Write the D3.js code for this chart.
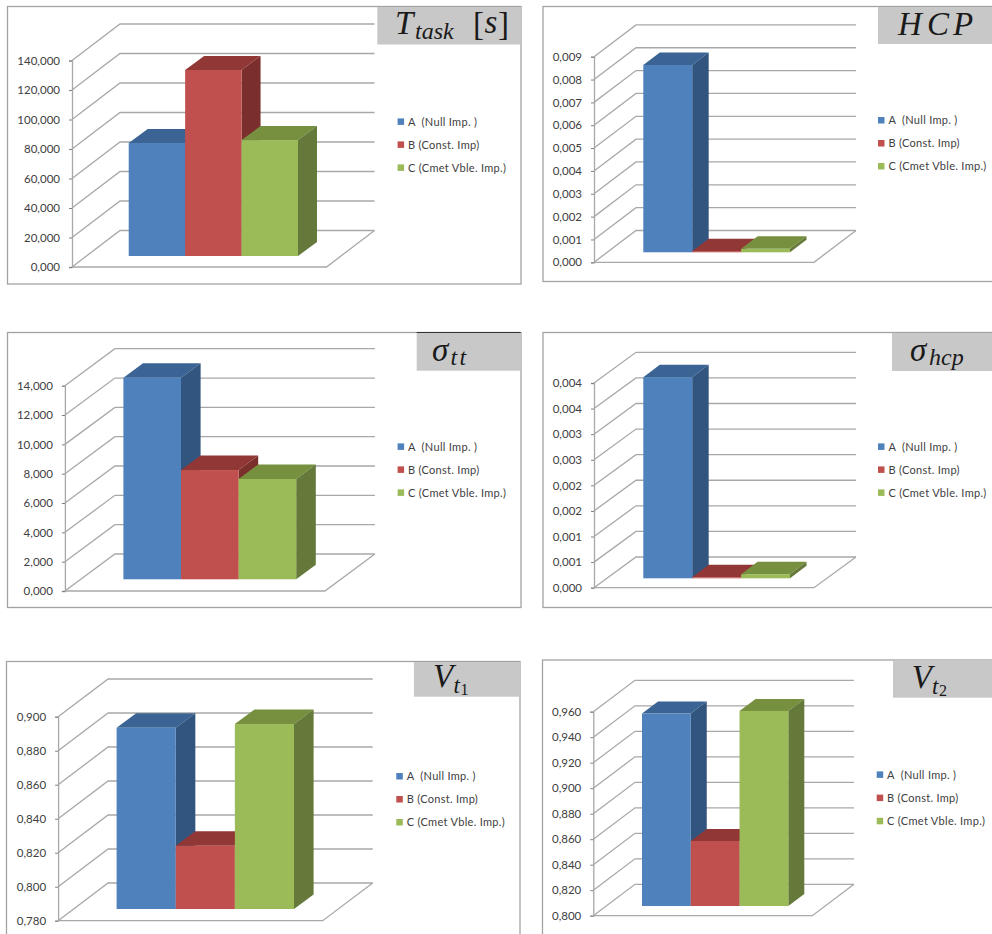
<!DOCTYPE HTML>
<html>

<head>
    <meta charset="utf-8">
    <title>Implementation comparison</title>
    <script src="https://d3js.org/d3.v7.min.js"></script>
    <style>
        html, body {
            margin: 0;
            background: white;
            overflow: hidden;
        }

        .axis_label {
            font-family: Lato, sans-serif;
            font-size: 11.5px;
            fill: #404040;
        }

        .legend_label {
            font-family: Lato, sans-serif;
            font-size: 11px;
            letter-spacing: 0.3px;
            fill: #404040;
            white-space: pre;
        }

        .title_part {
            font-family: "Liberation Serif", serif;
            fill: #1a1a1a;
        }

        .grid {
            fill: none;
            stroke: #a8a8a8;
            stroke-width: 1.3;
        }
    </style>
</head>

<body>
    <div id="charts"></div>

<script>
    // Series
    var seriesNames = ["A  (Null Imp. )", "B (Const. Imp)", "C (Cmet Vble. Imp.)"];

    var valuesTask = [76.6, 126.1, 78.6];
    var valuesHcp = [0.0082, 0.00005, 0.00015];
    var valuesSigmaTt = [13.75, 7.45, 6.84];
    var valuesSigmaHcp = [0.00393, 0.00002, 0.00008];
    var valuesVt1 = [0.8866, 0.8172, 0.8888];
    var valuesVt2 = [0.951, 0.851, 0.953];

    // Value axes
    var ticksTask = [0, 20, 40, 60, 80, 100, 120, 140];
    var ticksHcp = [0, 0.001, 0.002, 0.003, 0.004, 0.005, 0.006, 0.007, 0.008, 0.009];
    var ticksSigmaTt = [0, 2, 4, 6, 8, 10, 12, 14];
    var ticksSigmaHcp = [0, 0.0005, 0.001, 0.0015, 0.002, 0.0025, 0.003, 0.0035, 0.004];
    var ticksVt1 = [0.78, 0.8, 0.82, 0.84, 0.86, 0.88, 0.9];
    var ticksVt2 = [0.8, 0.82, 0.84, 0.86, 0.88, 0.9, 0.92, 0.94, 0.96];

    var frontColors = ["#4f81bd", "#c0504d", "#9bbb59"];
    var topColors = ["#3b6494", "#913735", "#76903f"];
    var sideColors = ["#32557f", "#7b2f2d", "#64793a"];

    // Decimal comma on the axis labels
    var locale = d3.formatLocale({ decimal: ",", thousands: ".", grouping: [3], currency: ["", ""] });
    var tickFormat = locale.format(".3f");

    var width = 992;
    var height = 934;

    var svg = d3.select("#charts").append("svg")
        .attr("width", width)
        .attr("height", height)
        .style("display", "block");

    // Each title is a few pieces set by hand: [text, x, baseline, size, italic]
    var panels = [
        {
            values: valuesTask, ticks: ticksTask,
            frame: [7.5, 6.5, 513.5, 277.5], titleBox: [377.3, 7, 143.5, 37.5],
            title: [["T", 395, 34, 33, true], ["task", 415, 39, 24, true], ["[", 473, 35, 33, false], ["s", 484.5, 33, 33, true], ["]", 498, 35, 33, false]],
            axisX: 72, floorY: 267, topY: 60.5, wallDx: 48, wallDy: -36.5, floorW: 254.5,
            barX: [128.7, 298], barBase: 256, depth: [19, -14],
            legendX: 397.6, legendY: 121.7, rowGap: 23
        },
        {
            values: valuesHcp, ticks: ticksHcp,
            frame: [543, 6.5, 470, 275], titleBox: [878, 7, 114, 37],
            title: [["H", 898, 34.5, 33, true], ["C", 927, 34.5, 33, true], ["P", 953, 34.5, 33, true]],
            axisX: 594, floorY: 262.3, topY: 56.7, wallDx: 42, wallDy: -31.8, floorW: 220,
            barX: [643.3, 790], barBase: 252.3, depth: [16.5, -12.5],
            legendX: 878, legendY: 120.3, rowGap: 23
        },
        {
            values: valuesSigmaTt, ticks: ticksSigmaTt,
            frame: [7.5, 332.5, 513.5, 275], titleBox: [416.7, 333, 104, 37.7], titleRule: true,
            title: [["σ", 432, 360.5, 33, true], ["t", 450.5, 365, 24, true], ["t", 459.5, 365, 24, true]],
            axisX: 64.9, floorY: 591, topY: 385.7, wallDx: 50, wallDy: -37, floorW: 260,
            barX: [123.4, 296.2], barBase: 579.3, depth: [19.6, -14.5],
            legendX: 397.6, legendY: 446.7, rowGap: 23
        },
        {
            values: valuesSigmaHcp, ticks: ticksSigmaHcp,
            frame: [543, 332.5, 470, 275], titleBox: [892, 333, 100, 38],
            title: [["σ", 910, 360.7, 33, true], ["hcp", 929, 365, 24, true]],
            axisX: 594, floorY: 587.7, topY: 383, wallDx: 42, wallDy: -30.7, floorW: 220,
            barX: [643.3, 790], barBase: 578.3, depth: [16.5, -12.5],
            legendX: 878, legendY: 446.7, rowGap: 23
        },
        {
            values: valuesVt1, ticks: ticksVt1,
            frame: [6.5, 661.5, 513.5, 290], titleBox: [413.9, 662, 106.1, 34.7],
            title: [["V", 433, 686.7, 33, true], ["t", 453.5, 692.7, 23, true], ["1", 460.5, 694.5, 16, false]],
            axisX: 58.1, floorY: 920.7, topY: 716.7, wallDx: 50, wallDy: -37.7, floorW: 264.6,
            barX: [116.6, 294], barBase: 909, depth: [19.6, -14.5],
            legendX: 396.3, legendY: 776.3, rowGap: 23
        },
        {
            values: valuesVt2, ticks: ticksVt2,
            frame: [542.5, 660, 470, 290], titleBox: [893, 660.5, 99, 37.2],
            title: [["V", 911.7, 687.7, 33, true], ["t", 932, 694, 23, true], ["2", 939, 696, 16, false]],
            axisX: 593.3, floorY: 915.7, topY: 711.7, wallDx: 41.7, wallDy: -31.4, floorW: 219,
            barX: [642, 788.3], barBase: 906, depth: [16, -12],
            legendX: 876.7, legendY: 774.7, rowGap: 23.2
        }
    ];

    panels.forEach(drawPanel);

    function drawPanel(p) {
        var g = svg.append("g");

        g.append("rect")
            .attr("x", p.frame[0])
            .attr("y", p.frame[1])
            .attr("width", p.frame[2])
            .attr("height", p.frame[3])
            .attr("fill", "white")
            .attr("stroke", "#a3a3a3")
            .attr("stroke-width", 1.3);

        var y = d3.scaleLinear()
            .domain(d3.extent(p.ticks))
            .range([p.floorY, p.topY]);

        var backX = p.axisX + p.wallDx;
        var rightX = p.axisX + p.floorW + p.wallDx;

        // Left wall and back wall lines, one polyline per tick
        var line = d3.line();
        g.selectAll(".wall")
            .data(p.ticks)
            .enter()
            .append("path")
            .attr("class", "grid wall")
            .attr("d", function(d) {
                return line([
                    [p.axisX, y(d)],
                    [backX, y(d) + p.wallDy],
                    [rightX, y(d) + p.wallDy]
                ]);
            });

        // Floor front edge and right edge
        var y0 = y(p.ticks[0]);
        g.append("path")
            .attr("class", "grid")
            .attr("d", line([
                [p.axisX, y0],
                [p.axisX + p.floorW, y0],
                [rightX, y0 + p.wallDy]
            ]));

        var yAxis = d3.axisLeft(y)
            .tickValues(p.ticks)
            .tickFormat(tickFormat)
            .tickSize(3)
            .tickPadding(9);

        var axisG = g.append("g")
            .attr("transform", "translate(" + p.axisX + ",0)")
            .call(yAxis);
        axisG.select(".domain").attr("stroke", "#a8a8a8").attr("stroke-width", 1.3);
        axisG.selectAll(".tick line").attr("stroke", "#808080");
        axisG.selectAll("text").attr("class", "axis_label");
        axisG.attr("font-family", null).attr("font-size", null);

        var x = d3.scaleBand()
            .domain(d3.range(p.values.length))
            .range(p.barX);

        var dx = p.depth[0];
        var dy = p.depth[1];
        var bw = x.bandwidth();

        // Left to right so each bar covers the side of the one before it
        p.values.forEach(function(v, i) {
            var left = x(i);
            var right = left + bw;
            var top = p.barBase - (y0 - y(v));

            g.append("path")
                .attr("fill", topColors[i])
                .attr("d", line([[left, top], [left + dx, top + dy], [right + dx, top + dy], [right, top]]) + "Z");

            g.append("path")
                .attr("fill", sideColors[i])
                .attr("d", line([[right, top], [right + dx, top + dy], [right + dx, p.barBase + dy], [right, p.barBase]]) + "Z");

            g.append("rect")
                .attr("fill", frontColors[i])
                .attr("x", left)
                .attr("y", top)
                .attr("width", bw)
                .attr("height", p.barBase - top);
        });

        // Legend
        seriesNames.forEach(function(name, i) {
            var rowY = p.legendY + i * p.rowGap;
            g.append("rect")
                .attr("x", p.legendX)
                .attr("y", rowY - 3.3)
                .attr("width", 6.5)
                .attr("height", 6.5)
                .attr("fill", frontColors[i]);
            g.append("text")
                .attr("class", "legend_label")
                .attr("x", p.legendX + 10.4)
                .attr("y", rowY + 3.8)
                .text(name);
        });

        // Title block
        g.append("rect")
            .attr("x", p.titleBox[0])
            .attr("y", p.titleBox[1])
            .attr("width", p.titleBox[2])
            .attr("height", p.titleBox[3])
            .attr("fill", "#c8c8c8");

        if (p.titleRule) {
            g.append("line")
                .attr("x1", p.titleBox[0])
                .attr("x2", p.titleBox[0] + p.titleBox[2])
                .attr("y1", p.titleBox[1] - 0.5)
                .attr("y2", p.titleBox[1] - 0.5)
                .attr("stroke", "#303030")
                .attr("stroke-width", 1);
        }

        g.selectAll(".title_part")
            .data(p.title)
            .enter()
            .append("text")
            .attr("class", "title_part")
            .attr("x", function(d) { return d[1]; })
            .attr("y", function(d) { return d[2]; })
            .attr("font-size", function(d) { return d[3]; })
            .attr("font-style", function(d) { return d[4] ? "italic" : "normal"; })
            .text(function(d) { return d[0]; });
    }
</script>
</body>

</html>
